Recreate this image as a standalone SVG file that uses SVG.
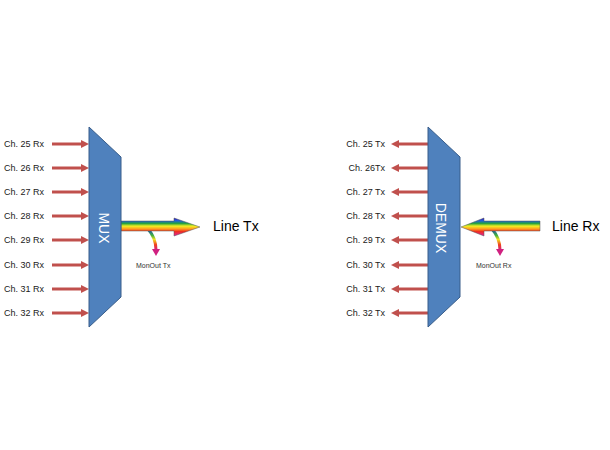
<svg xmlns="http://www.w3.org/2000/svg" width="610" height="450" viewBox="0 0 610 450">
<style>
.bg{fill:#ffffff}
.blk{fill:#4F81BD;stroke:#385D8A;stroke-width:1}
.lbl{font-family:"Liberation Sans",Arial,sans-serif;font-size:9px;fill:#1a1a1a}
.big{font-family:"Liberation Sans",Arial,sans-serif;font-size:14px;fill:#000}
.mon{font-family:"Liberation Sans",Arial,sans-serif;font-size:7px;fill:#333}
.blkt{font-family:"Liberation Sans",Arial,sans-serif;font-size:14px;fill:#ffffff}
.ch{stroke:#C0504D;stroke-width:3;fill:none}
.chh{fill:#C0504D}
.rb{fill:url(#rainbow);stroke:#555;stroke-width:0.5}
.mo{fill:none;stroke:url(#mgrad);stroke-width:3}
</style>
<defs>
<linearGradient id="rainbow" gradientUnits="userSpaceOnUse" x1="0" y1="218" x2="0" y2="236">
<stop offset="0" stop-color="#3010c0"/>
<stop offset="0.15" stop-color="#2060e0"/>
<stop offset="0.3" stop-color="#20a040"/>
<stop offset="0.45" stop-color="#f0f020"/>
<stop offset="0.6" stop-color="#ffa020"/>
<stop offset="0.75" stop-color="#f03020"/>
<stop offset="1" stop-color="#e020a0"/>
</linearGradient>
<linearGradient id="mgrad" x1="0" y1="0" x2="0" y2="1">
<stop offset="0" stop-color="#2040c0"/>
<stop offset="0.3" stop-color="#40b040"/>
<stop offset="0.5" stop-color="#f0e020"/>
<stop offset="0.75" stop-color="#f04020"/>
<stop offset="1" stop-color="#d02080"/>
</linearGradient>
</defs>
<rect class="bg" x="0" y="0" width="610" height="450"/>

<g id="connectors">
<g id="mux-inputs">
<line class="ch" x1="52" y1="144" x2="82" y2="144"/><polygon class="chh" points="81,140 89,144 81,148"/>
<line class="ch" x1="52" y1="168" x2="82" y2="168"/><polygon class="chh" points="81,164 89,168 81,172"/>
<line class="ch" x1="52" y1="192" x2="82" y2="192"/><polygon class="chh" points="81,188 89,192 81,196"/>
<line class="ch" x1="52" y1="216" x2="82" y2="216"/><polygon class="chh" points="81,212 89,216 81,220"/>
<line class="ch" x1="52" y1="240" x2="82" y2="240"/><polygon class="chh" points="81,236 89,240 81,244"/>
<line class="ch" x1="52" y1="265" x2="82" y2="265"/><polygon class="chh" points="81,261 89,265 81,269"/>
<line class="ch" x1="52" y1="289" x2="82" y2="289"/><polygon class="chh" points="81,285 89,289 81,293"/>
<line class="ch" x1="52" y1="313" x2="82" y2="313"/><polygon class="chh" points="81,309 89,313 81,317"/>
</g>
<g id="demux-outputs">
<line class="ch" x1="428" y1="144" x2="398" y2="144"/><polygon class="chh" points="399,140 391,144 399,148"/>
<line class="ch" x1="428" y1="168" x2="398" y2="168"/><polygon class="chh" points="399,164 391,168 399,172"/>
<line class="ch" x1="428" y1="192" x2="398" y2="192"/><polygon class="chh" points="399,188 391,192 399,196"/>
<line class="ch" x1="428" y1="216" x2="398" y2="216"/><polygon class="chh" points="399,212 391,216 399,220"/>
<line class="ch" x1="428" y1="240" x2="398" y2="240"/><polygon class="chh" points="399,236 391,240 399,244"/>
<line class="ch" x1="428" y1="265" x2="398" y2="265"/><polygon class="chh" points="399,261 391,265 399,269"/>
<line class="ch" x1="428" y1="289" x2="398" y2="289"/><polygon class="chh" points="399,285 391,289 399,293"/>
<line class="ch" x1="428" y1="313" x2="398" y2="313"/><polygon class="chh" points="399,309 391,313 399,317"/>
</g>
<g id="line-tx">
<path class="mo" d="M148,229 Q156,238 156,250"/>
<polygon fill="#d02080" points="152,249 160,249 156,256"/>
<polygon class="rb" points="121,221 174,221 174,218 200,227 174,236 174,231 121,231"/>
</g>
<g id="line-rx">
<path class="mo" d="M492,229 Q500,238 500,250"/>
<polygon fill="#d02080" points="496,249 504,249 500,256"/>
<polygon class="rb" points="540,221 484,221 484,218 461,227 484,236 484,231 540,231"/>
</g>
</g>

<g id="mux">
<polygon class="blk" points="89,127 121,157 121,297 89,327"/>
<text class="blkt" transform="translate(99,228) rotate(90)" text-anchor="middle">MUX</text>
</g>
<g id="demux">
<polygon class="blk" points="428,127 460,157 460,297 428,327"/>
<text class="blkt" transform="translate(436,228) rotate(90)" text-anchor="middle">DEMUX</text>
</g>

<g id="mux-labels">
<text class="lbl" x="4" y="147">Ch. 25 Rx</text>
<text class="lbl" x="4" y="171">Ch. 26 Rx</text>
<text class="lbl" x="4" y="195">Ch. 27 Rx</text>
<text class="lbl" x="4" y="219">Ch. 28 Rx</text>
<text class="lbl" x="4" y="243">Ch. 29 Rx</text>
<text class="lbl" x="4" y="268">Ch. 30 Rx</text>
<text class="lbl" x="4" y="292">Ch. 31 Rx</text>
<text class="lbl" x="4" y="316">Ch. 32 Rx</text>
</g>
<g id="demux-labels">
<text class="lbl" x="385" y="147" text-anchor="end">Ch. 25 Tx</text>
<text class="lbl" x="385" y="171" text-anchor="end">Ch. 26Tx</text>
<text class="lbl" x="385" y="195" text-anchor="end">Ch. 27 Tx</text>
<text class="lbl" x="385" y="219" text-anchor="end">Ch. 28 Tx</text>
<text class="lbl" x="385" y="243" text-anchor="end">Ch. 29 Tx</text>
<text class="lbl" x="385" y="268" text-anchor="end">Ch. 30 Tx</text>
<text class="lbl" x="385" y="292" text-anchor="end">Ch. 31 Tx</text>
<text class="lbl" x="385" y="316" text-anchor="end">Ch. 32 Tx</text>
</g>
<g id="line-labels">
<text class="big" x="213" y="231">Line Tx</text>
<text class="mon" x="136" y="268">MonOut Tx</text>
<text class="big" x="552" y="231">Line Rx</text>
<text class="mon" x="476" y="268">MonOut Rx</text>
</g>
</svg>
